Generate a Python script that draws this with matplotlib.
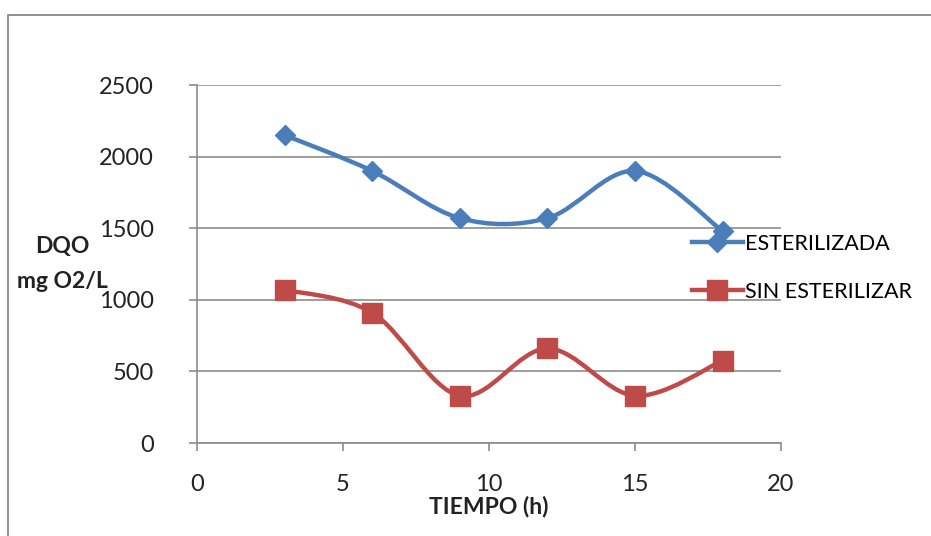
import matplotlib.pyplot as plt
from matplotlib.path import Path
from matplotlib.patches import PathPatch, Rectangle
from matplotlib.lines import Line2D

plt.rcParams['font.family'] = ['Lato', 'DejaVu Sans']

tiempo = [3, 6, 9, 12, 15, 18]
esterilizada = [2150, 1900, 1570, 1570, 1900, 1480]
sin_esterilizar = [1070, 910, 330, 660, 330, 575]

azul = '#4A7EBB'
rojo = '#BE4B48'
gris = '#8C8C8C'


def curva_suave(xs, ys):
    # curva tipo Excel: bezier por tramos con tangentes de Catmull-Rom
    verts = [(xs[0], ys[0])]
    codes = [Path.MOVETO]
    n = len(xs)
    for i in range(n - 1):
        x0, y0 = (xs[i - 1], ys[i - 1]) if i > 0 else (xs[i], ys[i])
        x1, y1 = xs[i], ys[i]
        x2, y2 = xs[i + 1], ys[i + 1]
        x3, y3 = (xs[i + 2], ys[i + 2]) if i + 2 < n else (x2, y2)
        c1 = (x1 + (x2 - x0) / 6, y1 + (y2 - y0) / 6)
        c2 = (x2 - (x3 - x1) / 6, y2 - (y3 - y1) / 6)
        verts += [c1, c2, (x2, y2)]
        codes += [Path.CURVE4] * 3
    return Path(verts, codes)


fig = plt.figure(figsize=(9.31, 5.36), dpi=100)
fig.patches.append(Rectangle((8 / 931, -0.1), 1.2, 1.1 - 15 / 536, transform=fig.transFigure,
                             fill=False, edgecolor='#7F7F7F', linewidth=1.2))
ax = fig.add_axes([197 / 931, 1 - 443 / 536, 584 / 931, 358 / 536])

for ys, col, mk, ms in [(esterilizada, azul, 'D', 10), (sin_esterilizar, rojo, 's', 14)]:
    ax.add_patch(PathPatch(curva_suave(tiempo, ys), facecolor='none', edgecolor=col,
                           linewidth=3.2, zorder=3))
    ax.plot(tiempo, ys, linestyle='none', marker=mk, markersize=ms, color=col, zorder=4)

ax.set_xlim(0, 20)
ax.set_ylim(0, 2500)
ax.set_xticks([0, 5, 10, 15, 20])
ax.set_yticks([0, 500, 1000, 1500, 2000, 2500])
ax.grid(axis='y', color=gris, linewidth=1.2)
ax.set_axisbelow(True)
for s in ['top', 'right']:
    ax.spines[s].set_visible(False)
for s in ['left', 'bottom']:
    ax.spines[s].set_color(gris)
    ax.spines[s].set_linewidth(1.2)
ax.tick_params(axis='both', colors=gris, labelcolor='#222222', labelsize=17, length=6, width=1.2)
ax.tick_params(axis='x', pad=16)
ax.tick_params(axis='y', pad=25)

ax.set_xlabel('TIEMPO (h)', fontsize=16.5, fontweight='bold', color='#222222', labelpad=1)
fig.text(62 / 931, 1 - 264 / 536, 'DQO\nmg O2/L', ha='center', va='center', fontsize=16.5,
         fontweight='bold', color='#222222', linespacing=1.8)

handles = [Line2D([], [], color=azul, marker='D', markersize=10, linewidth=3.2),
           Line2D([], [], color=rojo, marker='s', markersize=14, linewidth=3.2)]
ax.legend(handles, ['ESTERILIZADA', 'SIN ESTERILIZAR'], loc='center left',
          bbox_to_anchor=(683 / 931, 1 - 268 / 536), bbox_transform=fig.transFigure,
          frameon=False, fontsize=15.5, handlelength=2.4, handletextpad=0.1,
          labelspacing=1.3, borderaxespad=0)

fig.savefig('out.png', dpi=100)
